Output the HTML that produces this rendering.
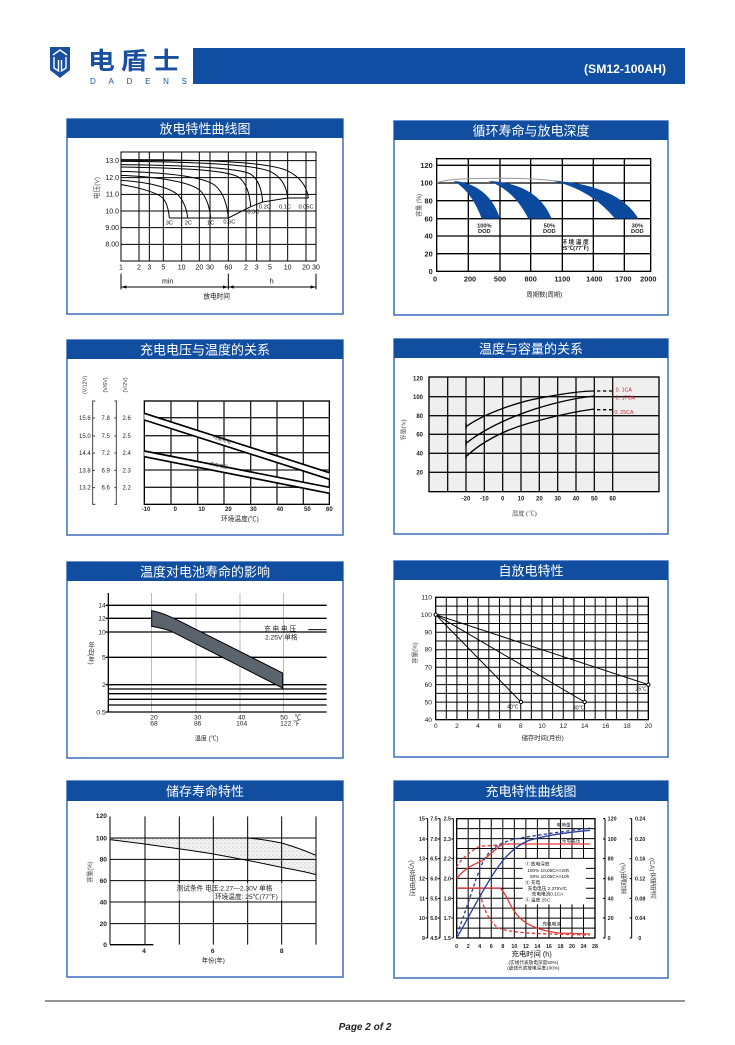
<!DOCTYPE html>
<html><head><meta charset="utf-8">
<style>
html,body{margin:0;padding:0;background:#fff;}
svg{display:block;}
text{font-family:"Liberation Sans","Noto Sans CJK SC",sans-serif;}
.s{font-family:"Liberation Serif","Noto Serif CJK SC",serif;}
.v{writing-mode:vertical-rl;}
</style></head><body>
<svg width="735" height="1045" viewBox="0 0 735 1045" xmlns="http://www.w3.org/2000/svg">
<defs>
<pattern id="dots" width="12" height="12" patternUnits="userSpaceOnUse">
<rect width="12" height="12" fill="#f3f3f3"/>
<circle cx="3" cy="3" r="1.4" fill="#8a8a8a"/>
<circle cx="9" cy="8" r="1.1" fill="#a5a5a5"/>
</pattern>
</defs>
<rect width="735" height="1045" fill="#fff"/>

<!-- Header -->
<path d="M50,47 L70,47 L70,70 L60,78 L50,70 Z" fill="#1a4fa0"/>
<path d="M53,55 L60,50 L67,55" fill="none" stroke="#fff" stroke-width="1.4"/>
<path d="M54,57 L54,68 L58.5,71 L58.5,60 M66,57 L66,68 L61.5,71 L61.5,60" fill="none" stroke="#fff" stroke-width="1.4"/>
<g transform="translate(88,69) scale(1.12,1)">
<text x="0" y="0" font-size="24" font-weight="bold" fill="#1a4fa0" letter-spacing="5">电盾士</text>
</g>
<text x="90" y="84" font-size="8" fill="#1a4fa0" textLength="97" lengthAdjust="spacing">DADENS</text>
<rect x="193" y="48" width="492" height="36" fill="#0f4ea2"/>
<text x="584" y="73" font-size="11.5" font-weight="bold" fill="#fff" font-family="Liberation Sans Narrow, Liberation Sans, sans-serif" textLength="82" lengthAdjust="spacingAndGlyphs">(SM12-100AH)</text>

<!-- Panels -->
<g fill="none" stroke="#3d6cc0" stroke-width="1.5">
<rect x="67" y="119" width="276" height="195"/>
<rect x="394" y="121" width="274" height="194"/>
<rect x="67" y="340" width="276" height="195"/>
<rect x="394" y="339" width="274" height="195"/>
<rect x="67" y="562" width="276" height="196"/>
<rect x="394" y="561" width="274" height="196"/>
<rect x="67" y="781" width="276" height="196"/>
<rect x="394" y="781" width="274" height="197"/>
</g>
<g fill="#114ea0">
<rect x="67" y="119" width="276" height="19"/>
<rect x="394" y="121" width="274" height="19"/>
<rect x="67" y="340" width="276" height="19"/>
<rect x="394" y="339" width="274" height="19"/>
<rect x="67" y="562" width="276" height="19"/>
<rect x="394" y="561" width="274" height="19"/>
<rect x="67" y="781" width="276" height="20"/>
<rect x="394" y="781" width="274" height="20"/>
</g>
<g fill="#fff" font-size="13" text-anchor="middle">
<text x="205" y="133.5">放电特性曲线图</text>
<text x="531" y="135.5">循环寿命与放电深度</text>
<text x="205" y="354.5">充电电压与温度的关系</text>
<text x="531" y="353.5">温度与容量的关系</text>
<text x="205" y="576.5">温度对电池寿命的影响</text>
<text x="531" y="575.5">自放电特性</text>
<text x="205" y="796">储存寿命特性</text>
<text x="531" y="796">充电特性曲线图</text>
</g>

<!-- Chart 1: discharge -->
<g transform="translate(60,112) scale(0.33333)">
<rect x="183" y="120" width="585" height="327" fill="#fff" stroke="#000" stroke-width="3"/>
<g stroke="#000" stroke-width="3">
<path d="M183,146H768M183,197H768M183,247H768M183,297H768M183,347H768M183,397H768"/>
<path d="M237,120V447M268,120V447M310,120V447M365,120V447M418,120V447M450,120V447M505,120V447M558,120V447M590,120V447M630,120V447M683,120V447M738,120V447"/>
</g>
<g fill="none" stroke="#000" stroke-width="3">
<path d="M183,143 C450,143 620,150 680,175 C720,195 740,220 745,258"/>
<path d="M183,148 C430,150 580,158 630,178 C665,195 680,225 683,258"/>
<path d="M183,158 C400,160 530,168 570,185 C595,200 606,235 608,270"/>
<path d="M183,165 C380,168 500,175 535,195 C560,212 570,250 572,284"/>
<path d="M183,178 C330,182 430,195 465,220 C490,240 502,280 505,318"/>
<path d="M183,190 C300,195 390,210 420,235 C440,255 450,290 452,318"/>
<path d="M183,205 C260,210 330,225 355,250 C372,268 381,295 383,318"/>
<path d="M183,218 C230,225 285,240 305,255 C320,268 326,295 328,318"/>
<path d="M328,318 L505,318 L572,284 L608,270 L683,258 L745,258"/>
</g>
<g font-size="17" text-anchor="middle" fill="#111">
<text x="328" y="338">3C</text><text x="385" y="338">2C</text><text x="452" y="338">1C</text><text x="508" y="335">0.6C</text>
<text x="580" y="304">0.3C</text><text x="615" y="289">0.2C</text><text x="675" y="289">0.1C</text><text x="738" y="289">0.05C</text>
</g>
<g font-size="21" text-anchor="end" fill="#111">
<text x="177" y="153">13.0</text><text x="177" y="204">12.0</text><text x="177" y="254">11.0</text><text x="177" y="304">10.0</text><text x="177" y="354">9.00</text><text x="177" y="404">8.00</text>
</g>
<g font-size="21" text-anchor="middle" fill="#111">
<text x="183" y="472">1</text><text x="237" y="472">2</text><text x="268" y="472">3</text><text x="310" y="472">5</text><text x="365" y="472">10</text><text x="418" y="472">20</text><text x="450" y="472">30</text><text x="505" y="472">60</text><text x="558" y="472">2</text><text x="590" y="472">3</text><text x="630" y="472">5</text><text x="683" y="472">10</text><text x="738" y="472">20</text><text x="768" y="472">30</text>
<text x="323" y="515">min</text><text x="635" y="515">h</text>
<text x="470" y="560" font-size="20">放电时间</text>
</g>
<g stroke="#000" stroke-width="3"><path d="M183,485V532M505,485V532M768,485V532M183,525H768"/></g>
<g fill="#000"><path d="M185,525 L199,520 L199,530Z M503,525 L489,520 L489,530Z M507,525 L521,520 L521,530Z M766,525 L752,520 L752,530Z"/></g>
<text transform="translate(117,228) rotate(-90)" font-size="20" text-anchor="middle" fill="#555">电压(V)</text>
</g>

<!-- Chart 2: cycle life -->
<g transform="translate(385,112) scale(0.33333)">
<rect x="155" y="140" width="642" height="338" fill="#fff" stroke="#000" stroke-width="4"/>
<g stroke="#000" stroke-width="4">
<path d="M155,160H797M155,213H797M155,266H797M155,320H797M155,372H797M155,425H797"/>
<path d="M250,140V478M345,140V478M437,140V478M532,140V478M625,140V478M718,140V478"/>
</g>
<path d="M155,213 C180,203 220,200 300,199 C400,198 470,200 535,210" fill="none" stroke="#999" stroke-width="3"/>
<g fill="#0c4aa0">
<path d="M205,207 C260,210 320,240 345,320 L290,320 C270,265 240,225 205,207 Z"/>
<path d="M310,207 C400,210 470,245 500,320 L430,320 C400,260 360,225 310,207 Z"/>
<path d="M505,207 C620,212 720,250 760,320 L690,320 C640,260 580,225 505,207 Z"/>
</g>
<g font-size="22" font-weight="bold" text-anchor="end" fill="#222">
<text x="143" y="168">120</text><text x="143" y="221">100</text><text x="143" y="274">80</text><text x="143" y="328">60</text><text x="143" y="380">40</text><text x="143" y="433">20</text><text x="143" y="486">0</text>
</g>
<g font-size="22" font-weight="bold" text-anchor="middle" fill="#222">
<text x="150" y="508">0</text><text x="255" y="508">200</text><text x="345" y="508">500</text><text x="437" y="508">800</text><text x="532" y="508">1100</text><text x="628" y="508">1400</text><text x="715" y="508">1700</text><text x="790" y="508">2000</text>
</g>
<g font-size="17" font-weight="bold" text-anchor="middle" fill="#222">
<text x="298" y="346">100%</text><text x="298" y="363">DOD</text>
<text x="493" y="346">50%</text><text x="493" y="363">DOD</text>
<text x="757" y="346">30%</text><text x="757" y="363">DOD</text>
<text x="570" y="396">环 境 温 度</text><text x="570" y="414">25℃(77℉)</text>
</g>
<text x="478" y="554" font-size="19" text-anchor="middle" fill="#222">周期数(周期)</text>
<text transform="translate(108,280) rotate(-90)" font-size="18" text-anchor="middle" fill="#444">容量 (%)</text>
</g>

<!-- Chart 3: charge voltage vs temperature -->
<g transform="translate(60,335) scale(0.33333)">
<rect x="253" y="198" width="555" height="310" fill="#fff" stroke="#000" stroke-width="4"/>
<g stroke="#222" stroke-width="4">
<path d="M253,248H808M253,302H808M253,353H808M253,405H808M253,457H808"/>
<path d="M333,198V508M413,198V508M492,198V508M572,198V508M651,198V508M730,198V508"/>
</g>
<path d="M253,235 L808,413 L808,433 L253,255Z" fill="#fff"/>
<path d="M253,348 L808,457 L808,475 L253,365Z" fill="#fff"/>
<g stroke="#000" stroke-width="5"><path d="M253,235 L808,413M253,255 L808,433M253,348 L808,457M253,365 L808,475"/></g>
<text transform="translate(485,318) rotate(17.8)" font-size="14" text-anchor="middle" fill="#222">均衡充电</text>
<text transform="translate(475,396) rotate(11.1)" font-size="14" text-anchor="middle" fill="#222">浮充电压</text>
<g font-size="18" font-weight="bold" text-anchor="middle" fill="#222">
<text x="258" y="528">-10</text><text x="346" y="528">0</text><text x="425" y="528">10</text><text x="505" y="528">20</text><text x="580" y="528">30</text><text x="660" y="528">40</text><text x="742" y="528">50</text><text x="808" y="528">60</text>
</g>
<g font-size="18" fill="#222">
<g text-anchor="end"><text x="92" y="255">15.6</text><text x="92" y="309">15.0</text><text x="92" y="360">14.4</text><text x="92" y="412">13.8</text><text x="92" y="464">13.2</text></g>
<g text-anchor="middle"><text x="137" y="255">7.8</text><text x="137" y="309">7.5</text><text x="137" y="360">7.2</text><text x="137" y="412">6.9</text><text x="137" y="464">6.6</text>
<text x="200" y="255">2.6</text><text x="200" y="309">2.5</text><text x="200" y="360">2.4</text><text x="200" y="412">2.3</text><text x="200" y="464">2.2</text></g>
</g>
<g stroke="#444" stroke-width="3" fill="none">
<path d="M106,198 H98 V508 H106 M163,198 H169 V508 H163"/>
<path d="M98,249H105M98,303H105M98,354H105M98,406H105M98,458H105M163,249H170M163,303H170M163,354H170M163,406H170M163,458H170"/>
</g>
<g font-size="16" text-anchor="middle" fill="#333">
<text transform="translate(80,150) rotate(-90)">(V/12V)</text>
<text transform="translate(141,150) rotate(-90)">(V/6V)</text>
<text transform="translate(201,150) rotate(-90)">(V/2V)</text>
</g>
<text x="540" y="558" font-size="20" text-anchor="middle" fill="#222">环境温度(℃)</text>
</g>

<!-- Chart 4: temperature vs capacity -->
<g transform="translate(385,335) scale(0.33333)">
<rect x="132" y="126" width="690" height="344" fill="#efefef" stroke="#000" stroke-width="4"/>
<g stroke="#111" stroke-width="4">
<path d="M132,185H822M132,242H822M132,298H822M132,355H822M132,412H822"/>
<path d="M188,126V470M243,126V470M298,126V470M353,126V470M408,126V470M463,126V470M518,126V470M573,126V470M628,126V470M683,126V470"/>
</g>
<g fill="none" stroke="#000" stroke-width="4">
<path d="M243,275 C300,235 400,200 470,188 C540,175 590,168 628,168"/>
<path d="M243,325 C300,280 380,245 450,222 C520,200 580,188 628,183"/>
<path d="M243,365 C290,320 360,285 430,265 C520,240 580,228 628,222"/>
<path d="M243,265V282M243,315V332M243,355V372"/>
</g>
<g stroke="#000" stroke-width="4" stroke-dasharray="10,8"><path d="M636,168H682M636,224H682"/></g>
<g class="s" font-size="16" fill="#d4213a">
<text x="692" y="170">0. 1CA</text><text x="692" y="194">0. 17CA</text><text x="688" y="237">0. 25CA</text>
</g>
<g class="s" font-size="18" font-weight="bold" text-anchor="end" fill="#222">
<text x="114" y="136">120</text><text x="114" y="192">100</text><text x="114" y="249">80</text><text x="114" y="305">60</text><text x="114" y="362">40</text><text x="114" y="418">20</text>
</g>
<g class="s" font-size="18" font-weight="bold" text-anchor="middle" fill="#222">
<text x="243" y="497">-20</text><text x="298" y="497">-10</text><text x="353" y="497">0</text><text x="408" y="497">10</text><text x="463" y="497">20</text><text x="518" y="497">30</text><text x="573" y="497">40</text><text x="628" y="497">50</text><text x="683" y="497">60</text>
</g>
<text x="418" y="542" class="s" font-size="19" text-anchor="middle" fill="#222">温度 (℃)</text>
<text transform="translate(62,285) rotate(-90)" class="s" font-size="18" text-anchor="middle" fill="#222">容量(%)</text>
</g>

<!-- Chart 5: temperature vs life -->
<g transform="translate(60,558) scale(0.33333)">
<g stroke="#999" stroke-width="2"><path d="M275,105V462M408,105V462M540,105V462M670,105V462"/></g>
<g stroke="#000" stroke-width="4">
<path d="M145,105V462"/>
<path d="M145,142H800M145,181H800M145,222H800M145,298H800M145,380H800M145,393H800M145,407H800M145,424H800M145,441H800M145,462H800"/>
<path d="M137,142H145M137,181H145M137,222H145M137,298H145M137,380H145M137,462H145"/>
</g>
<path d="M275,158 C310,165 345,182 380,200 L668,345 L668,390 L330,218 C310,212 290,207 275,205 Z" fill="#5b636e" stroke="#000" stroke-width="3"/>
<g font-size="20" text-anchor="end" fill="#222">
<text x="137" y="149">14</text><text x="137" y="188">12</text><text x="137" y="229">10</text><text x="137" y="305">5</text><text x="137" y="387">2</text><text x="137" y="469">0.5</text>
</g>
<g font-size="20" text-anchor="middle" fill="#222">
<text x="282" y="484">20</text><text x="282" y="502">68</text>
<text x="413" y="484">30</text><text x="413" y="502">86</text>
<text x="545" y="484">40</text><text x="545" y="502">104</text>
<text x="672" y="484">50</text><text x="714" y="484">℃</text><text x="690" y="502">122 ℉</text>
</g>
<g font-size="20" fill="#222">
<text x="612" y="219">充 电 电 压</text><text x="615" y="244">2.25V 单格</text>
</g>
<path d="M745,215H800" stroke="#000" stroke-width="3"/>
<text x="92" y="285" class="v" font-size="19" text-anchor="middle" fill="#333">年份(年)</text>
<text x="440" y="548" font-size="18" text-anchor="middle" fill="#222">温度 (℃)</text>
</g>

<!-- Chart 6: self-discharge -->
<g transform="translate(385,558) scale(0.33333)">
<rect x="152" y="118" width="638" height="367" fill="#fff" stroke="#000" stroke-width="4"/>
<g stroke="#000" stroke-width="3">
<path d="M183.9,118V485M215.8,118V485M247.7,118V485M279.6,118V485M311.5,118V485M343.4,118V485M375.3,118V485M407.2,118V485M439.1,118V485M471,118V485M502.9,118V485M534.8,118V485M566.7,118V485M598.6,118V485M630.5,118V485M662.4,118V485M694.3,118V485M726.2,118V485M758.1,118V485"/>
<path d="M152,144.2H790M152,170.4H790M152,196.6H790M152,222.8H790M152,249H790M152,275.2H790M152,301.4H790M152,327.6H790M152,353.8H790M152,380H790M152,406.2H790M152,432.4H790M152,458.6H790"/>
</g>
<g stroke="#000" stroke-width="3" fill="none">
<path d="M152,170 L408,432 M152,170 L599,432 M152,170 L790,380"/>
</g>
<g fill="#fff" stroke="#000" stroke-width="3">
<circle cx="152" cy="170" r="5"/><circle cx="408" cy="432" r="5"/><circle cx="599" cy="432" r="5"/><circle cx="790" cy="380" r="5"/>
</g>
<g font-size="16" text-anchor="middle" fill="#222">
<text x="383" y="451">40℃</text><text x="580" y="454">30℃</text><text x="768" y="398">25℃</text>
</g>
<g font-size="20" text-anchor="end" fill="#222">
<text x="141" y="125">110</text><text x="141" y="177">100</text><text x="141" y="229">90</text><text x="141" y="281">80</text><text x="141" y="334">70</text><text x="141" y="387">60</text><text x="141" y="439">50</text><text x="141" y="492">40</text>
</g>
<g font-size="20" text-anchor="middle" fill="#222">
<text x="152" y="510">0</text><text x="216" y="510">2</text><text x="279" y="510">4</text><text x="343" y="510">6</text><text x="407" y="510">8</text><text x="471" y="510">10</text><text x="535" y="510">12</text><text x="599" y="510">14</text><text x="662" y="510">16</text><text x="726" y="510">18</text><text x="790" y="510">20</text>
</g>
<text transform="translate(96,285) rotate(-90)" font-size="18" text-anchor="middle" fill="#444">容量(%)</text>
<text x="473" y="546" font-size="19" text-anchor="middle" fill="#222">储存时间(月份)</text>
</g>

<!-- Chart 7: storage life -->
<g transform="translate(60,778) scale(0.33333)">
<path d="M150,180 L563,180 C600,183 640,190 665,195 C700,205 740,220 768,232 L768,290 C740,282 700,275 665,268 L563,247 L460,228 C380,215 300,205 255,198 L150,185 Z" fill="url(#dots)"/>
<g stroke="#000" stroke-width="3">
<path d="M150,180H768M150,244H768M150,308H768M150,372H768M150,437H768"/>
<path d="M150,115V500M255,115V500M358,115V500M460,115V500M563,115V500M665,115V500M768,115V500"/>
<path d="M150,500H280" stroke-width="4"/>
</g>
<g fill="none" stroke="#000" stroke-width="3">
<path d="M563,180 C600,183 640,190 665,195 C700,205 740,220 768,232"/>
<path d="M150,185 L255,198 C300,205 380,215 460,228 L563,247 L665,268 C700,275 740,282 768,290"/>
</g>
<rect x="345" y="315" width="345" height="52" fill="#fff" opacity="0.6"/>
<g font-size="20" fill="#222">
<text x="350" y="337">测试条件 电压:2.27—2.30V 单格</text>
<text x="465" y="363">环境温度: 25℃(77℉)</text>
</g>
<g font-size="20" font-weight="bold" text-anchor="end" fill="#222">
<text x="141" y="120">120</text><text x="141" y="187">100</text><text x="141" y="251">80</text><text x="141" y="315">60</text><text x="141" y="379">40</text><text x="141" y="444">20</text><text x="141" y="507">0</text>
</g>
<g font-size="20" font-weight="bold" text-anchor="middle" fill="#222">
<text x="252" y="525">4</text><text x="458" y="525">6</text><text x="665" y="525">8</text>
</g>
<text transform="translate(96,282) rotate(-90)" font-size="18" text-anchor="middle" fill="#444">容量(%)</text>
<text x="460" y="553" font-size="19" text-anchor="middle" fill="#222">年份(年)</text>
</g>

<!-- Chart 8: charge characteristics -->
<g transform="translate(385,778) scale(0.33333)">
<rect x="215" y="122" width="415" height="358" fill="#fff" stroke="#000" stroke-width="4"/>
<g stroke="#000" stroke-width="3">
<path d="M249.6,122V480M284.2,122V480M318.8,122V480M353.4,122V480M388,122V480M422.6,122V480M457.2,122V480M491.8,122V480M526.4,122V480M561,122V480M595.6,122V480"/>
<path d="M215,151.8H630M215,181.7H630M215,211.5H630M215,241.3H630M215,271.2H630M215,301H630M215,330.8H630M215,360.7H630M215,390.5H630M215,420.3H630M215,450.2H630"/>
</g>
<rect x="413" y="243" width="190" height="136" fill="#fff"/>
<g font-size="14" fill="#111">
<text x="420" y="263">①  放电深度</text>
<text x="427" y="282">100%  10.05CA×20h</text>
<text x="435" y="300">50%  10.05CA×10h</text>
<text x="420" y="318">②  充电</text>
<text x="428" y="336">充电电压 2.275V/C</text>
<text x="440" y="353">充电电流0.1CA</text>
<text x="420" y="371">③  温度  25C</text>
</g>
<g fill="none" stroke-width="4">
<path d="M215,302 C235,275 260,262 283,252 C310,240 330,210 355,198 L615,198" stroke="#e53939"/>
<path d="M215,268 C225,245 250,225 283,205 L350,200" stroke="#e53939" stroke-dasharray="10,7"/>
<path d="M215,330 L345,330 C365,345 375,395 410,425 C440,450 480,460 520,465 L615,468" stroke="#e53939"/>
<path d="M283,330 C290,380 310,430 340,450 C380,465 450,468 615,471" stroke="#e53939" stroke-dasharray="10,7"/>
<path d="M215,480 C250,420 290,340 330,280 C360,235 390,205 430,188 C480,172 560,162 615,157" stroke="#2b3f9e"/>
<path d="M215,470 C240,410 265,320 290,260 C310,215 340,195 390,183 C450,172 540,160 615,150" stroke="#2b3f9e" stroke-dasharray="10,7"/>
</g>
<g font-size="14" fill="#111">
<text x="515" y="146">电荷量</text><text x="530" y="192">充电电压</text><text x="472" y="442">充电电流</text>
</g>
<g stroke="#000" stroke-width="3">
<path d="M128,122V480M165,122V480M205,122V480M660,122V480M740,122V480"/>
<path d="M122,122H128M122,183H128M122,242H128M122,302H128M122,361H128M122,420H128M122,480H128M159,122H165M159,183H165M159,242H165M159,302H165M159,361H165M159,420H165M159,480H165M199,122H205M199,183H205M199,242H205M199,302H205M199,361H205M199,420H205M199,480H205M654,122H660M654,183H660M654,242H660M654,302H660M654,361H660M654,420H660M654,480H660M734,122H740M734,183H740M734,242H740M734,302H740M734,361H740M734,420H740M734,480H740"/>
</g>
<g font-size="16" font-weight="bold" text-anchor="end" fill="#222">
<text x="120" y="128">15</text><text x="120" y="189">14</text><text x="120" y="248">13</text><text x="120" y="308">12</text><text x="120" y="367">11</text><text x="120" y="426">10</text><text x="120" y="486">9</text>
<text x="158" y="128">7.5</text><text x="158" y="189">7.0</text><text x="158" y="248">6.5</text><text x="158" y="308">6.0</text><text x="158" y="367">5.5</text><text x="158" y="426">5.0</text><text x="158" y="486">4.5</text>
<text x="198" y="128">2.5</text><text x="198" y="189">2.3</text><text x="198" y="248">2.2</text><text x="198" y="308">2.0</text><text x="198" y="367">1.8</text><text x="198" y="426">1.7</text><text x="198" y="486">1.5</text>
</g>
<g font-size="16" font-weight="bold" fill="#222">
<text x="668" y="128">120</text><text x="668" y="189">100</text><text x="668" y="248">80</text><text x="668" y="308">60</text><text x="668" y="367">40</text><text x="668" y="426">20</text><text x="668" y="486">0</text>
<text x="750" y="128">0.24</text><text x="750" y="189">0.20</text><text x="750" y="248">0.16</text><text x="750" y="308">0.12</text><text x="750" y="367">0.08</text><text x="750" y="426">0.04</text><text x="760" y="486">0</text>
</g>
<g font-size="16" font-weight="bold" text-anchor="middle" fill="#222">
<text x="215" y="510">0</text><text x="249.6" y="510">2</text><text x="284.2" y="510">4</text><text x="318.8" y="510">6</text><text x="353.4" y="510">8</text><text x="388" y="510">10</text><text x="422.6" y="510">12</text><text x="457.2" y="510">14</text><text x="491.8" y="510">16</text><text x="526.4" y="510">18</text><text x="561" y="510">20</text><text x="595.6" y="510">24</text><text x="630" y="510">28</text>
</g>
<g font-size="20" text-anchor="middle" fill="#444">
<text x="78" y="300" class="v">(V)充电电压</text>
<text x="712" y="300" class="v">(%)电荷量</text>
<text x="800" y="300" class="v">(CA)充电电流</text>
</g>
<text x="440" y="535" font-size="22" text-anchor="middle" fill="#111">充电时间 (h)</text>
<g font-size="14" text-anchor="middle" fill="#111">
<text x="445" y="558">(实线代表放电深度50%)</text>
<text x="445" y="574">(虚线代表放电深度100%)</text>
</g>
</g>

<!-- Footer -->
<line x1="45" y1="1001" x2="685" y2="1001" stroke="#555" stroke-width="1.3"/>
<text x="365" y="1030" font-size="10" font-weight="bold" font-style="italic" text-anchor="middle" font-family="Liberation Serif, serif" fill="#222">Page 2 of 2</text>
</svg>
</body></html>
